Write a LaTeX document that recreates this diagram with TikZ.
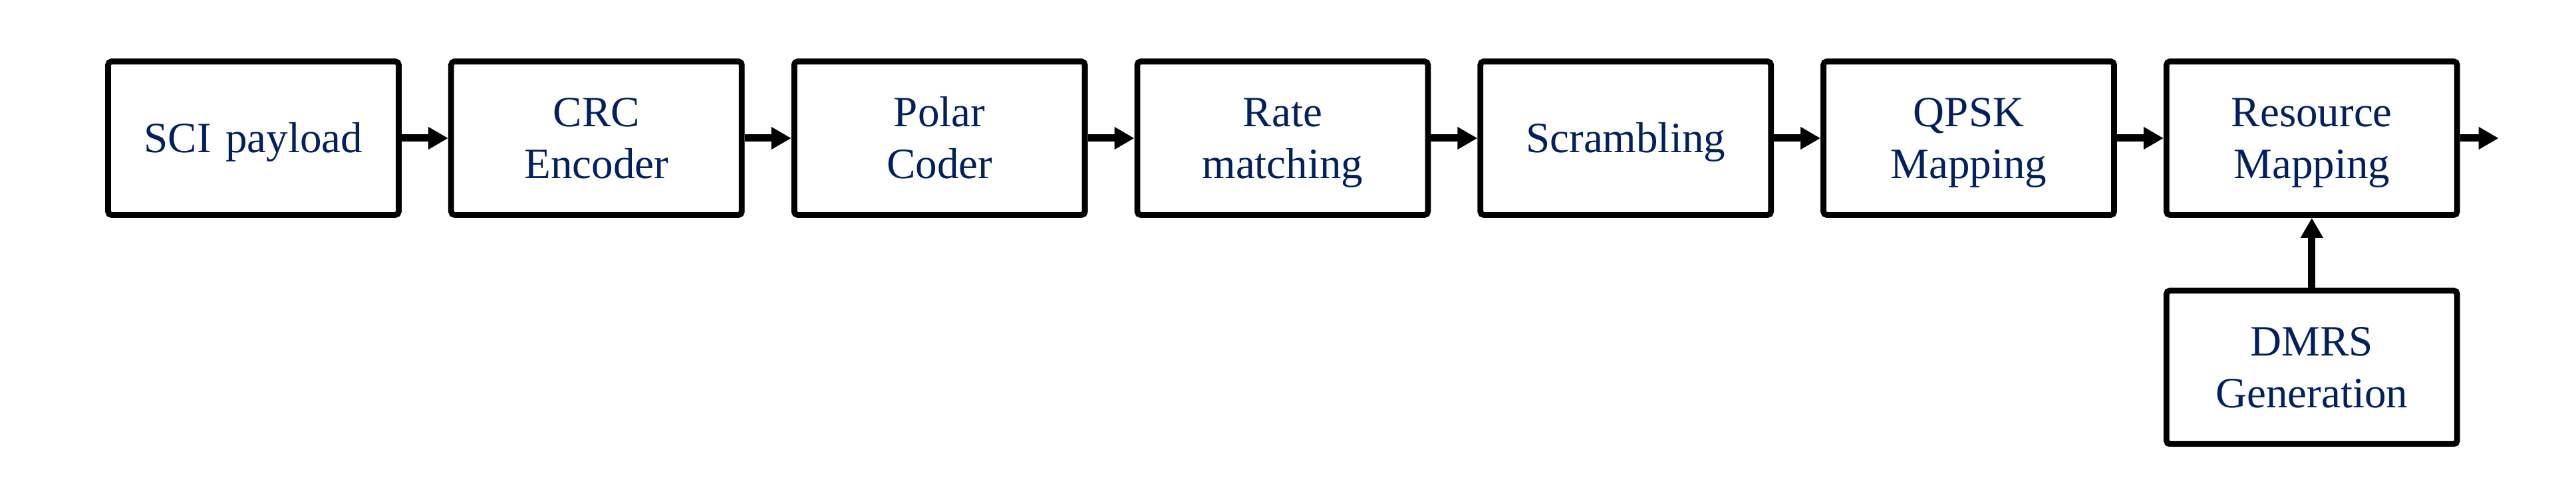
\documentclass[tikz,border=0pt]{standalone}
\usepackage{fontspec}
\setmainfont{Liberation Serif}
\usepackage{xcolor}
\usepackage{tikz}
\usetikzlibrary{arrows.meta,positioning}
\definecolor{labelblue}{RGB}{0,32,96}
\tikzset{
  block/.style={draw, line width=0.088cm, rounded corners=1.5pt, align=center,
    font=\fontsize{18.5pt}{22.2pt}\selectfont, text=labelblue, text width=4.2cm,
    minimum width=4.37cm, minimum height=2.31cm, inner sep=0pt,
    execute at begin node=\rule{0pt}{17.5pt},
    execute at end node=\rule[-5pt]{0pt}{5pt}},
  arrow/.style={-{Triangle[length=0.3cm,width=0.32cm]}, line width=0.11cm}
}

\begin{document}
\begin{tikzpicture}[node distance=0.7cm and 0.7cm]
  \useasboundingbox (0,0) rectangle (38.73,7.56);
  \node[block] (sci) at (3.81,5.48) {SCI payload};
  \node[block, right=of sci] (crc) {CRC\\Encoder};
  \node[block, right=of crc] (polar) {Polar\\Coder};
  \node[block, right=of polar] (rate) {Rate\\matching};
  \node[block, right=of rate] (scram) {Scrambling};
  \node[block, right=of scram] (qpsk) {QPSK\\Mapping};
  \node[block, right=of qpsk] (res) {Resource\\Mapping};
  \node[block, below=1.05cm of res] (dmrs) {DMRS\\Generation};
  \coordinate[right=0.58cm of res] (out);

  \draw[arrow] (sci) -- (crc);
  \draw[arrow] (crc) -- (polar);
  \draw[arrow] (polar) -- (rate);
  \draw[arrow] (rate) -- (scram);
  \draw[arrow] (scram) -- (qpsk);
  \draw[arrow] (qpsk) -- (res);
  \draw[arrow] (res) -- (out);
  \draw[arrow] (dmrs) -- (res);
\end{tikzpicture}
\end{document}
